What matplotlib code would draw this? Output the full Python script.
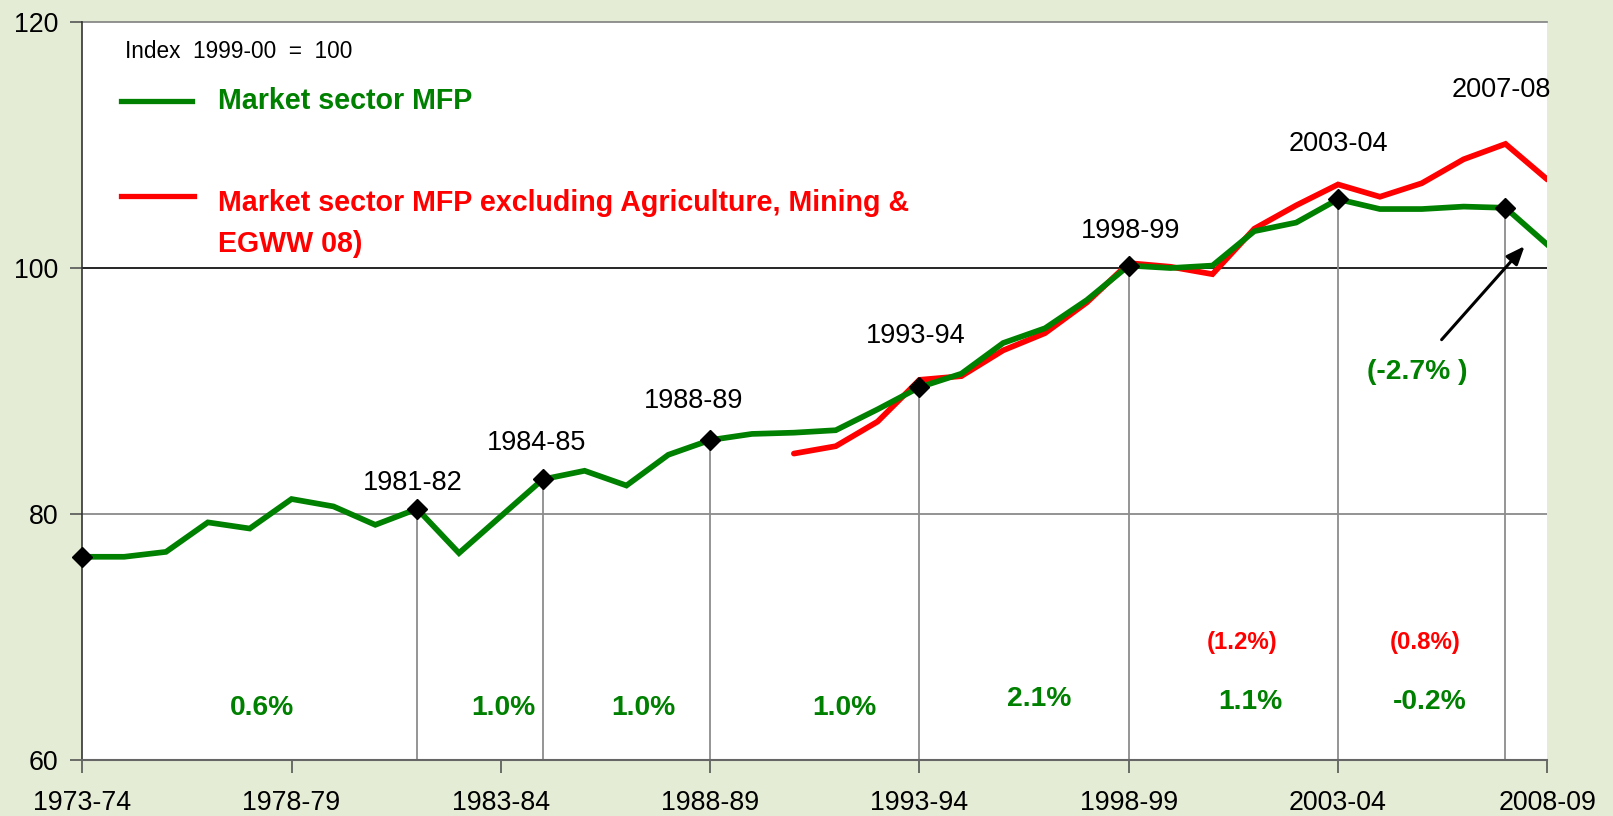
import matplotlib
matplotlib.use("Agg")
import matplotlib.pyplot as plt
import numpy as np

years = ["1973-74", "1974-75", "1975-76", "1976-77", "1977-78", "1978-79", "1979-80",
         "1980-81", "1981-82", "1982-83", "1983-84", "1984-85", "1985-86", "1986-87",
         "1987-88", "1988-89", "1989-90", "1990-91", "1991-92", "1992-93", "1993-94",
         "1994-95", "1995-96", "1996-97", "1997-98", "1998-99", "1999-00", "2000-01",
         "2001-02", "2002-03", "2003-04", "2004-05", "2005-06", "2006-07", "2007-08",
         "2008-09"]

mfp = [76.5, 76.5, 76.9, 79.3, 78.8, 81.2, 80.6, 79.1, 80.4, 76.8, 79.8, 82.8,
       83.5, 82.3, 84.8, 86.0, 86.5, 86.6, 86.8, 88.5, 90.3, 91.4, 93.9, 95.1,
       97.4, 100.2, 100.0, 100.2, 103.0, 103.7, 105.6, 104.8, 104.8, 105.0, 104.9, 101.9]

mfp_excl = [None] * 17 + [84.9, 85.5, 87.5, 90.9, 91.2, 93.3, 94.7, 97.2, 100.4,
                          100.1, 99.5, 103.2, 105.1, 106.8, 105.8, 106.9, 108.85,
                          110.1, 107.2]

peak_years = ["1973-74", "1981-82", "1984-85", "1988-89", "1993-94", "1998-99",
              "2003-04", "2007-08"]
peak_labels = ["", "1981-82", "1984-85", "1988-89", "1993-94", "1998-99",
               "2003-04", "2007-08"]

tick_years = ["1973-74", "1978-79", "1983-84", "1988-89", "1993-94", "1998-99",
              "2003-04", "2008-09"]

growth_green = ["0.6%", "1.0%", "1.0%", "1.0%", "2.1%", "1.1%", "-0.2%"]
growth_green_pos = [(4.3, 64.2), (10.05, 64.2), (13.4, 64.2), (18.2, 64.2),
                    (22.85, 64.9), (27.9, 64.7), (32.2, 64.7)]
growth_red = ["(1.2%)", "(0.8%)"]
growth_red_pos = [(27.7, 69.55), (32.07, 69.55)]

GREEN = "#008000"
RED = "#FF0000"
BG = "#E4ECD6"

plt.rcParams['font.family'] = ['Liberation Sans', 'DejaVu Sans']

fig = plt.figure(figsize=(16.13, 8.16), dpi=100, facecolor=BG)
ax = fig.add_axes([0.051, 0.0692, 0.9083, 0.9035])
ax.set_facecolor("white")

x = np.arange(len(years))
idx = {y: i for i, y in enumerate(years)}

ax.set_xlim(0, len(years) - 1)
ax.set_ylim(60, 120)

# horizontal gridlines
ax.axhline(80, color="#808080", lw=1.2, zorder=1)
ax.axhline(100, color="black", lw=1.2, zorder=1)
ax.axhline(120, color="#808080", lw=1.2, zorder=1, clip_on=False)

# droplines from peaks
for py in peak_years[1:]:
    i = idx[py]
    ax.plot([i, i], [60, mfp[i]], color="#8C8C8C", lw=1.3, zorder=2)

red_y = np.array([np.nan if v is None else v for v in mfp_excl], dtype=float)
ax.plot(x, red_y, color=RED, lw=4.1, zorder=3, solid_capstyle="round",
        solid_joinstyle="miter")
ax.plot(x, mfp, color=GREEN, lw=4.1, zorder=4, solid_joinstyle="miter")

pi = [idx[p] for p in peak_years]
ax.plot(pi, [mfp[i] for i in pi], linestyle="none", marker="D", markersize=10,
        color="black", zorder=5, clip_on=False)

label_pos = {"1981-82": (7.9, 82.5), "1984-85": (10.86, 85.8), "1988-89": (14.6, 89.2),
             "1993-94": (19.9, 94.5), "1998-99": (25.05, 103.0), "2003-04": (30.0, 110.1),
             "2007-08": (33.9, 114.5)}
for lab in peak_labels:
    if lab:
        lx, ly = label_pos[lab]
        ax.text(lx, ly, lab, ha="center", va="center", fontsize=19.5, color="black",
                zorder=6, clip_on=False)

for t, (gx, gy) in zip(growth_green, growth_green_pos):
    ax.text(gx, gy, t, ha="center", va="center", fontsize=20.3, fontweight="bold",
            color=GREEN, zorder=6)
for t, (gx, gy) in zip(growth_red, growth_red_pos):
    ax.text(gx, gy, t, ha="center", va="center", fontsize=17.3, fontweight="bold",
            color=RED, zorder=6)

ax.text(31.9, 91.5, "(-2.7% )", ha="center", va="center", fontsize=20.3,
        fontweight="bold", color=GREEN, zorder=6)
ax.annotate("", xy=(34.5, 101.95), xytext=(32.43, 94.0),
            arrowprops=dict(arrowstyle="-|>,head_length=1.1,head_width=0.45",
                            color="black", lw=2.2), zorder=6)

# legend-like texts
ax.text(0.0295, 0.960, "Index  1999-00  =  100", transform=ax.transAxes,
        ha="left", va="center", fontsize=16.3, color="black")
ax.plot([0.0265, 0.075], [0.8935, 0.8935], transform=ax.transAxes, color=GREEN, lw=3.8)
ax.text(0.0925, 0.8935, "Market sector MFP", transform=ax.transAxes, ha="left",
        va="center", fontsize=20.6, fontweight="bold", color=GREEN)
ax.plot([0.0265, 0.0765], [0.765, 0.765], transform=ax.transAxes, color=RED, lw=3.8)
ax.text(0.0925, 0.7554, "Market sector MFP excluding Agriculture, Mining &",
        transform=ax.transAxes, ha="left", va="center", fontsize=20.6,
        fontweight="bold", color=RED)
ax.text(0.0925, 0.6995, "EGWW 08)", transform=ax.transAxes, ha="left",
        va="center", fontsize=20.6, fontweight="bold", color=RED)

# axes styling
ax.set_xticks([idx[t] for t in tick_years])
ax.set_xticklabels(tick_years)
ax.set_yticks([60, 80, 100, 120])
ax.tick_params(axis="x", length=9, width=1.2, color="#555555", pad=13, labelsize=19.3)
ax.tick_params(axis="y", length=9, width=1.2, color="#555555", pad=8, labelsize=19.3)
for s in ["top", "right"]:
    ax.spines[s].set_visible(False)
ax.spines["left"].set_color("#333333")
ax.spines["left"].set_linewidth(1.2)
ax.spines["bottom"].set_color("#666666")
ax.spines["bottom"].set_linewidth(1.5)

fig.savefig("out.png", dpi=100, facecolor=BG)
